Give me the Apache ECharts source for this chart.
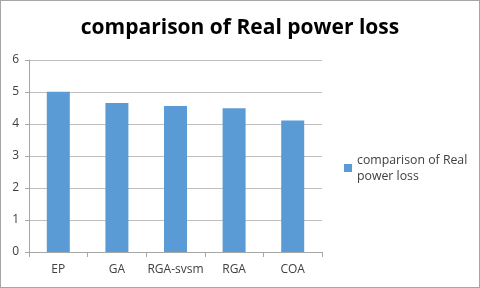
<!DOCTYPE html>
<html><head><meta charset="utf-8">
<script src="https://cdn.jsdelivr.net/npm/echarts@6/dist/echarts.min.js"></script>
<style>html,body{margin:0;padding:0;background:#fff}#c{width:478px;height:286px;border:1px solid #a6a6a6}</style>
</head><body><div id="c"></div>
<script>
const categories = ['EP', 'GA', 'RGA-svsm', 'RGA', 'COA'];
const values = [5.01, 4.66, 4.56, 4.49, 4.11];
const seriesName = 'comparison of Real power loss';
const chart = echarts.init(document.getElementById('c'));
chart.setOption({
  animation: false,
  title: { text: 'comparison of Real power loss', left: 'center', top: 12,
    textStyle: { fontFamily: 'Open Sans', fontSize: 21, fontWeight: 'bold', color: '#000' } },
  grid: { left: 28, top: 59, width: 293, height: 192 },
  legend: { orient: 'vertical', left: 338, top: 146, itemWidth: 8, itemHeight: 8, icon: 'rect', itemGap: 4,
    formatter: () => 'comparison of Real\npower loss',
    textStyle: { fontFamily: 'Open Sans', fontSize: 12.3, color: '#404040', lineHeight: 16 } },
  xAxis: { type: 'category', data: categories,
    axisLine: { lineStyle: { color: '#a6a6a6' } },
    axisTick: { show: true, length: 5, lineStyle: { color: '#a6a6a6' } },
    axisLabel: { interval: 0, fontFamily: 'Open Sans', fontSize: 12, color: '#404040', margin: 12 } },
  yAxis: { type: 'value', min: 0, max: 6, interval: 1,
    axisLine: { show: true, lineStyle: { color: '#a6a6a6' } },
    axisTick: { show: true, length: 4, lineStyle: { color: '#a6a6a6' } },
    splitLine: { lineStyle: { color: '#bfbfbf' } },
    axisLabel: { fontFamily: 'Open Sans', fontSize: 12, color: '#404040', margin: 10 } },
  series: [{ name: seriesName, type: 'bar', data: values, barWidth: 23,
    itemStyle: { color: '#5B9BD5' } }]
});
</script></body></html>
